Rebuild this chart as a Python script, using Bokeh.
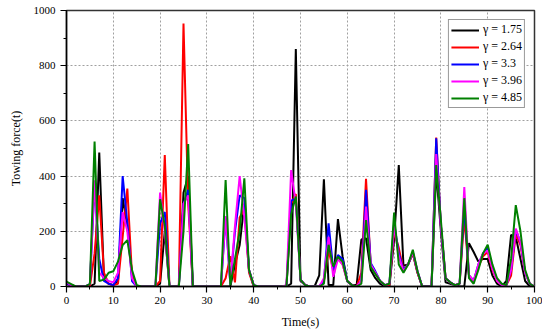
from bokeh.plotting import figure
from bokeh.models import ColumnDataSource, Legend, LegendItem, FixedTicker
from bokeh.embed import file_html
from bokeh.resources import INLINE

time_s = list(range(101))

force_175 = [10, 5, 0, 0, 0, 0, 10, 485, 30, 10, 5, 20, 320, 220, 40, 0, 0, 0, 0, 0,
             10, 200, 0, 0, 0, 340, 400, 0, 0, 0, 0, 0, 0, 0, 0, 0, 80, 150, 300, 60,
             0, 0, 0, 0, 0, 0, 0, 0, 10, 860, 20, 5, 0, 0, 40, 388, 5, 5, 244, 108,
             18, 5, 5, 170, 175, 60, 30, 10, 0, 0, 170, 440, 75, 80, 120, 50, 0, 0, 0, 420,
             200, 15, 10, 5, 0, 0, 157, 125, 90, 100, 100, 40, 10, 0, 20, 187, 180, 100, 20, 0, 0]
force_264 = [10, 5, 0, 0, 0, 0, 120, 330, 50, 10, 5, 10, 180, 355, 40, 0, 0, 0, 0, 0,
             20, 476, 0, 0, 0, 953, 300, 0, 0, 0, 0, 0, 0, 0, 30, 110, 15, 250, 280, 50,
             0, 0, 0, 0, 0, 0, 0, 0, 300, 335, 25, 5, 0, 0, 0, 20, 130, 60, 100, 80,
             20, 5, 0, 50, 390, 80, 50, 20, 5, 5, 200, 140, 60, 80, 120, 50, 0, 0, 0, 540,
             220, 30, 15, 5, 10, 250, 40, 20, 70, 110, 125, 60, 20, 5, 5, 40, 190, 150, 50, 10, 0]
force_330 = [10, 5, 0, 0, 0, 10, 370, 100, 20, 10, 5, 30, 400, 230, 20, 0, 0, 0, 0, 0,
             230, 270, 0, 0, 0, 300, 350, 0, 0, 0, 0, 0, 0, 0, 250, 10, 200, 330, 320, 60,
             5, 0, 0, 0, 0, 0, 0, 0, 310, 320, 25, 5, 0, 0, 0, 20, 229, 60, 114, 100,
             20, 5, 0, 20, 350, 85, 55, 20, 5, 10, 230, 120, 60, 80, 125, 55, 0, 0, 0, 537,
             220, 30, 15, 5, 10, 290, 40, 20, 80, 120, 140, 70, 25, 5, 5, 60, 205, 160, 50, 10, 0]
force_396 = [15, 5, 0, 0, 0, 10, 385, 50, 30, 20, 15, 50, 270, 200, 30, 0, 0, 0, 0, 0,
             340, 200, 0, 0, 0, 300, 330, 0, 0, 0, 0, 0, 0, 0, 255, 10, 220, 400, 250, 60,
             5, 0, 0, 0, 0, 0, 0, 5, 422, 300, 25, 5, 0, 0, 0, 30, 180, 35, 100, 80,
             20, 5, 0, 20, 290, 80, 50, 20, 5, 10, 220, 110, 55, 80, 125, 55, 0, 0, 0, 480,
             220, 30, 15, 5, 10, 360, 40, 20, 80, 120, 130, 65, 20, 5, 5, 60, 210, 160, 50, 10, 0]
force_485 = [18, 9, 0, 0, 0, 10, 525, 20, 25, 50, 55, 90, 150, 168, 60, 5, 0, 0, 0, 0,
             316, 220, 0, 0, 0, 200, 516, 0, 0, 0, 0, 0, 0, 0, 386, 5, 100, 200, 392, 60,
             5, 0, 0, 0, 0, 0, 0, 0, 262, 326, 25, 5, 0, 0, 0, 10, 151, 72, 108, 90,
             20, 5, 0, 10, 241, 70, 45, 20, 5, 10, 268, 80, 50, 80, 133, 55, 0, 0, 0, 440,
             240, 30, 15, 5, 10, 320, 30, 10, 60, 120, 151, 80, 30, 10, 5, 100, 295, 200, 60, 10, 0]

series_labels = ["γ = 1.75", "γ = 2.64", "γ = 3.3", "γ = 3.96", "γ = 4.85"]
series_values = [force_175, force_264, force_330, force_396, force_485]
series_colors = ["#000000", "#ff0000", "#0000ff", "#ff00ff", "#008000"]

x_ticks = list(range(0, 101, 10))
y_ticks = list(range(0, 1001, 200))

FONT = "Liberation Serif"

p = figure(width=542, height=331, output_backend="svg", toolbar_location=None,
           x_range=(0, 100), y_range=(0, 1000),
           min_border_left=66, min_border_right=8, min_border_top=10, min_border_bottom=44)
p.background_fill_color = "white"
p.border_fill_color = "white"
p.outline_line_color = "#333333"
p.outline_line_width = 1.5

items = []
for lab, vals, col in zip(series_labels, series_values, series_colors):
    src = ColumnDataSource(dict(t=time_s, f=vals))
    r = p.line("t", "f", source=src, line_color=col, line_width=2)
    items.append(LegendItem(label=lab, renderers=[r]))

legend = Legend(items=items, location="top_right")
legend.label_text_font = FONT
legend.label_text_font_size = "12px"
legend.label_text_color = "#000000"
legend.glyph_width = 28
legend.glyph_height = 14
legend.label_height = 14
legend.spacing = 2
legend.padding = 2
legend.margin = 9
legend.label_standoff = 4
legend.border_line_color = "#333333"
legend.border_line_width = 1
legend.background_fill_alpha = 1.0
p.add_layout(legend)

for ax in (p.xaxis[0], p.yaxis[0]):
    ax.axis_line_color = "#000000"
    ax.axis_line_width = 1.5
    ax.major_tick_line_color = "#000000"
    ax.minor_tick_line_color = "#000000"
    ax.major_tick_line_width = 1.2
    ax.major_tick_out = 6
    ax.major_tick_in = 0
    ax.minor_tick_out = 3
    ax.minor_tick_in = 0
    ax.major_label_text_font = FONT
    ax.major_label_text_font_size = "11px"
    ax.major_label_text_color = "#000000"
    ax.axis_label_text_font = FONT
    ax.axis_label_text_font_size = "12px"
    ax.axis_label_text_font_style = "normal"
    ax.axis_label_text_color = "#000000"

p.xaxis.ticker = FixedTicker(ticks=x_ticks, minor_ticks=list(range(0, 101, 5)))
p.yaxis.ticker = FixedTicker(ticks=y_ticks, minor_ticks=list(range(0, 1001, 100)))
p.xaxis.axis_label = "Time(s)"
p.yaxis.axis_label = "Towing force(t)"
p.xaxis.major_label_standoff = 4
p.yaxis.major_label_standoff = 5
p.xaxis.axis_label_standoff = 8
p.yaxis.axis_label_standoff = 8

for g in (p.xgrid, p.ygrid):
    g.grid_line_color = "#a0a0a0"
    g.grid_line_dash = "2 2"
    g.grid_line_width = 1

open("out.html", "w").write(file_html(p, INLINE))
